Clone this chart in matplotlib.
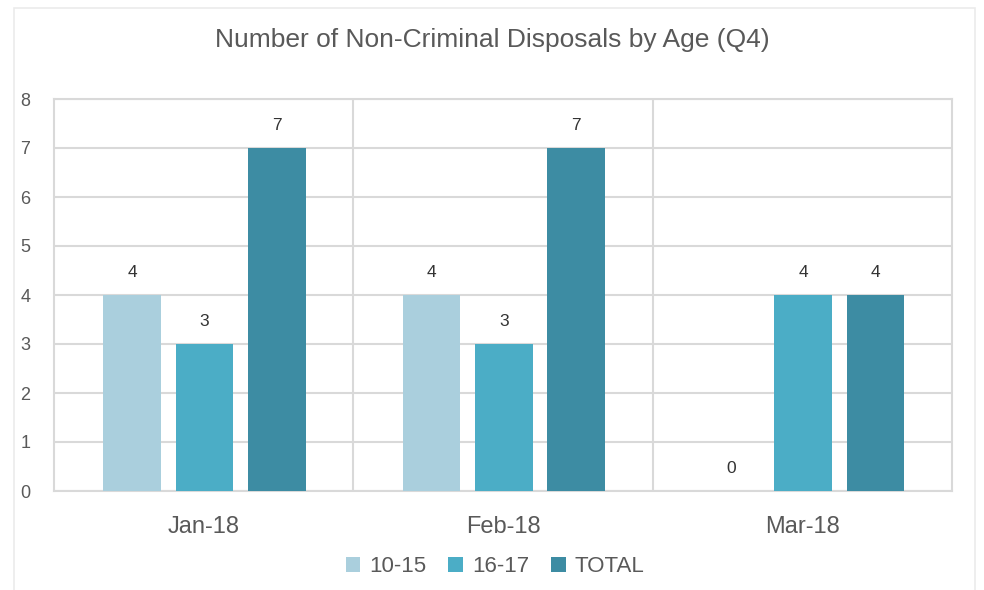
import numpy as np
import matplotlib.pyplot as plt
from matplotlib.patches import Rectangle

months = ["Jan-18", "Feb-18", "Mar-18"]
series_names = ["10-15", "16-17", "TOTAL"]
age_10_15 = [4, 4, 0]
age_16_17 = [3, 3, 4]
total = [7, 7, 4]

colors = ["#AACFDD", "#4BADC6", "#3D8CA3"]
text_color = "#595959"
grid_color = "#D9D9D9"

plt.rcParams["font.family"] = ["Liberation Sans", "DejaVu Sans"]

fig = plt.figure(figsize=(9.84, 5.9), dpi=100)
fig.patches.append(Rectangle((14 / 984, -0.01), 961 / 984, 1 - 8 / 590 + 0.01,
                             transform=fig.transFigure, fill=False,
                             edgecolor="#EBEBEB", linewidth=1.2))
ax = fig.add_axes([54 / 984, 99 / 590, 898 / 984, 392 / 590])

x = np.arange(len(months))
width = 0.193
step = 0.2417
for i, (name, vals) in enumerate(zip(series_names, [age_10_15, age_16_17, total])):
    pos = x + (i - 1) * step + 0.003
    bars = ax.bar(pos, vals, width, color=colors[i], label=name, zorder=3)
    for xp, v in zip(pos, vals):
        ax.text(xp, v + 0.45, str(v), ha="center", va="center",
                fontsize=12.5, color="#333333")

ax.set_xlim(-0.5, 2.5)
ax.set_ylim(0, 8)
ax.set_yticks(range(0, 9))
ax.yaxis.grid(True, color=grid_color, linewidth=1.5, zorder=0)
for sep in [0.5, 1.5]:
    ax.axvline(sep, color=grid_color, linewidth=1.5, zorder=0)
for side in ["left", "right", "top", "bottom"]:
    ax.spines[side].set_color(grid_color)
    ax.spines[side].set_linewidth(1.5)
ax.set_xticks(x)
ax.set_xticklabels(months)
ax.tick_params(axis="x", length=0, pad=18, labelsize=17, labelcolor=text_color)
ax.tick_params(axis="y", length=0, pad=17, labelsize=13, labelcolor=text_color)

fig.text(0.5, 1 - 40 / 590, "Number of Non-Criminal Disposals by Age (Q4)",
         ha="center", va="center", fontsize=19, color=text_color)

fig.legend(loc="center", bbox_to_anchor=(495 / 984, 1 - 567 / 590), ncol=3,
           frameon=False, handlelength=0.65, handleheight=0.65, handletextpad=0.4,
           columnspacing=1.0, fontsize=16, labelcolor=text_color)

fig.savefig("out.png", dpi=100)
